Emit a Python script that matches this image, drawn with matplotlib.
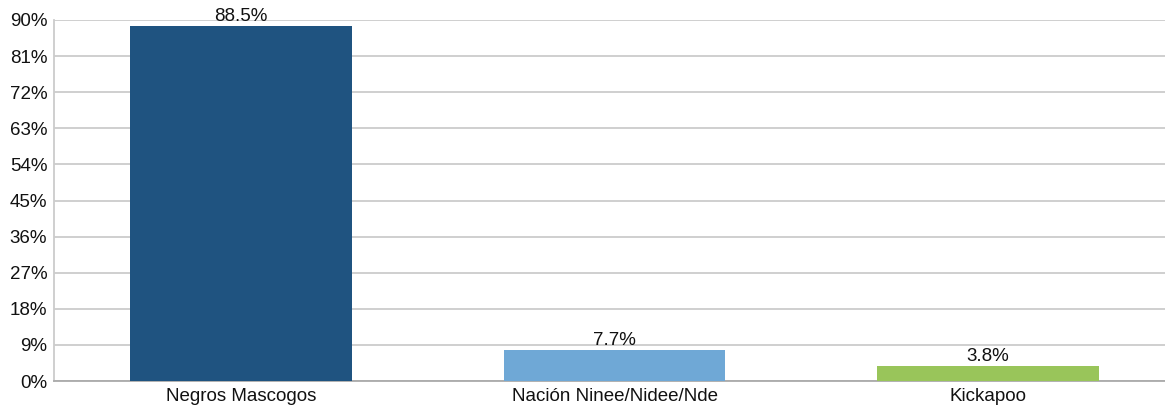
import matplotlib.pyplot as plt
from matplotlib.ticker import FixedLocator

plt.rcParams['font.family'] = ['Liberation Sans', 'DejaVu Sans']

categorias = ["Negros Mascogos", "Nación Ninee/Nidee/Nde", "Kickapoo"]
porcentajes = [88.5, 7.7, 3.8]
etiquetas = ["88.5%", "7.7%", "3.8%"]
colores = ["#1f5380", "#6fa8d6", "#99c55a"]
ticks_y = [0, 9, 18, 27, 36, 45, 54, 63, 72, 81, 90]

fig = plt.figure(figsize=(11.65, 4.05), dpi=100)
ax = fig.add_axes([54.25 / 1165, 24 / 405, 1120.5 / 1165, 361 / 405])

x = range(len(categorias))
barras = ax.bar(x, porcentajes, width=0.594, color=colores, zorder=3)
for b, txt in zip(barras, etiquetas):
    ax.text(b.get_x() + b.get_width() / 2, b.get_height() + 0.2, txt,
            ha="center", va="bottom", fontsize=13.5, color="#111111", zorder=4)

ax.set_xlim(-0.5, 2.5)
ax.set_ylim(0, 90)
ax.yaxis.set_major_locator(FixedLocator(ticks_y))
ax.set_yticklabels([f"{t}%" for t in ticks_y])
ax.set_xticks(list(x))
ax.set_xticklabels(categorias)
ax.tick_params(axis="both", length=0, labelsize=13.5, colors="#111111")
ax.tick_params(axis="y", pad=5)
ax.tick_params(axis="x", pad=5)

ax.grid(axis="y", color="#cccccc", linewidth=1.3, zorder=0)
ax.set_axisbelow(True)
for s in ["top", "right"]:
    ax.spines[s].set_visible(False)
ax.spines["left"].set_color("#cccccc")
ax.spines["left"].set_linewidth(1.3)
ax.spines["bottom"].set_color("#aaaaaa")
ax.spines["bottom"].set_linewidth(1.3)

fig.savefig("out.png", dpi=100)
